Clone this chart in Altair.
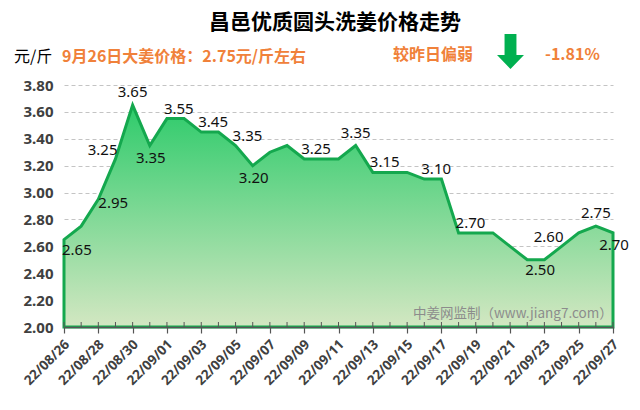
import altair as alt
import pandas as pd

dates = ["22/08/26", "22/08/27", "22/08/28", "22/08/29", "22/08/30", "22/08/31",
         "22/09/01", "22/09/02", "22/09/03", "22/09/04", "22/09/05", "22/09/06",
         "22/09/07", "22/09/08", "22/09/09", "22/09/10", "22/09/11", "22/09/12",
         "22/09/13", "22/09/14", "22/09/15", "22/09/16", "22/09/17", "22/09/18",
         "22/09/19", "22/09/20", "22/09/21", "22/09/22", "22/09/23", "22/09/24",
         "22/09/25", "22/09/26", "22/09/27"]
prices = [2.65, 2.75, 2.95, 3.25, 3.65, 3.35, 3.55, 3.55, 3.45, 3.45, 3.35, 3.20,
          3.30, 3.35, 3.25, 3.25, 3.25, 3.35, 3.15, 3.15, 3.15, 3.10, 3.10, 2.70,
          2.70, 2.70, 2.60, 2.50, 2.50, 2.60, 2.70, 2.75, 2.70]
y_ticks = [2.0, 2.2, 2.4, 2.6, 2.8, 3.0, 3.2, 3.4, 3.6, 3.8]

# which points carry a value label, grouped by where the label sits
lab_above = [4, 17, 31]
lab_below = [5, 11, 32]
lab_right_above = [6, 8, 10, 14, 18, 21, 23]
lab_right_below = [0, 27]
lab_right = [2]
lab_left_above = [3, 29]

title_text = "昌邑优质圆头洗姜价格走势"
unit_text = "元/斤"
note_text = "9月26日大姜价格：2.75元/斤左右"
trend_text = "较昨日偏弱"
pct_text = "-1.81%"
source_text = "中姜网监制（www.jiang7.com）"

df = pd.DataFrame({"date": dates, "price": prices, "i": list(range(len(dates)))})
one = pd.DataFrame({"k": [0]})

W, H = 549, 242

x_enc = alt.X("date:O", sort=None, scale=alt.Scale(type="point", padding=0),
              axis=alt.Axis(values=dates[::2], labelAngle=315, labelAlign="right",
                            labelBaseline="middle", labelFont="Noto Sans",
                            labelFontWeight="bold", labelFontSize=13.5,
                            labelColor="#404040", tickSize=6, tickColor="#555555",
                            tickWidth=1.2, domainColor="#555555", domainWidth=1.5,
                            labelPadding=9, labelOffset=3, grid=False, title=None,
                            zindex=1, labelOverlap=False))
y_enc = alt.Y("price:Q", scale=alt.Scale(domain=[2.0, 3.8], nice=False, zero=False),
              axis=alt.Axis(values=y_ticks, format=".2f", labelFont="Noto Sans",
                            labelFontWeight="bold", labelFontSize=15,
                            labelColor="#404040", domain=False, ticks=False,
                            tickSize=0, labelPadding=11, grid=True,
                            gridColor="#C4C4C4", gridDash=[4, 3], gridWidth=1,
                            title=None))

base = alt.Chart(df)

area = base.mark_area(
    stroke="#14A84E", strokeWidth=3, strokeJoin="miter",
    color=alt.Gradient(gradient="linear",
                       stops=[alt.GradientStop(color="#2ECB6B", offset=0),
                              alt.GradientStop(color="#D3E7C2", offset=1)],
                       x1=0, x2=0, y1=0, y2=1)
).encode(x=x_enc, y=y_enc, y2=alt.datum(2.0))

minor = base.mark_rule(color="#555555", strokeWidth=1).encode(
    x=x_enc, y=alt.value(H - 5), y2=alt.value(H))


def labels(idx, **kw):
    return base.transform_filter(
        alt.FieldOneOfPredicate(field="i", oneOf=idx)
    ).mark_text(font="Noto Sans", fontSize=15, color="#111111",
                baseline="middle", **kw).encode(
        x=x_enc, y=y_enc, text=alt.Text("price:Q", format=".2f"))


lbls = [
    labels(lab_above, align="center", dx=0, dy=-13),
    labels(lab_below, align="center", dx=1, dy=12),
    labels(lab_right_above, align="left", dx=-3, dy=-10),
    labels(lab_right_below, align="left", dx=-2, dy=10),
    labels(lab_right, align="left", dx=0, dy=4),
    labels(lab_left_above, align="right", dx=2, dy=-9),
]


def ann(text, x, y, **kw):
    return alt.Chart(one).mark_text(text=text, baseline="middle", **kw).encode(
        x=alt.value(x), y=alt.value(y))


title = ann(title_text, 271, -62, align="center", font="Noto Sans CJK SC",
            fontSize=21, fontWeight="bold", color="#000000")
unit = ann(unit_text, -50, -28, align="left", font="Noto Sans CJK SC",
           fontSize=16, color="#000000")
note = ann(note_text, -2, -28, align="left", font="Noto Sans CJK SC",
           fontSize=16, fontWeight="bold", color="#F0813A")
trend = ann(trend_text, 329, -30, align="left", font="Noto Sans CJK SC",
            fontSize=16, fontWeight="bold", color="#F0813A")
pct = ann(pct_text, 481, -30, align="left", font="Noto Sans CJK SC",
          fontSize=16, fontWeight="bold", color="#F0813A")
source = ann(source_text, 349, 229, align="left", font="Noto Sans CJK SC",
             fontSize=13.5, color="#8C8C8C")

arrow = alt.Chart(one).mark_point(
    shape="M-0.34,-1L0.34,-1L0.34,0.2L0.77,0.2L0,1L-0.77,0.2L-0.34,0.2Z",
    filled=True, fill="#00B050", opacity=1, size=1225, strokeWidth=0
).encode(x=alt.value(446.5), y=alt.value(-33.5))

chart = alt.layer(area, minor, *lbls, title, unit, note, trend, pct, source, arrow).properties(
    width=W, height=H,
    padding={"left": 56, "top": 77, "right": 19, "bottom": 75},
    autosize=alt.AutoSizeParams(type="none"),
    background="white",
).configure_view(stroke=None)

chart.save("out.html", embed_options={"renderer": "svg", "actions": False})
